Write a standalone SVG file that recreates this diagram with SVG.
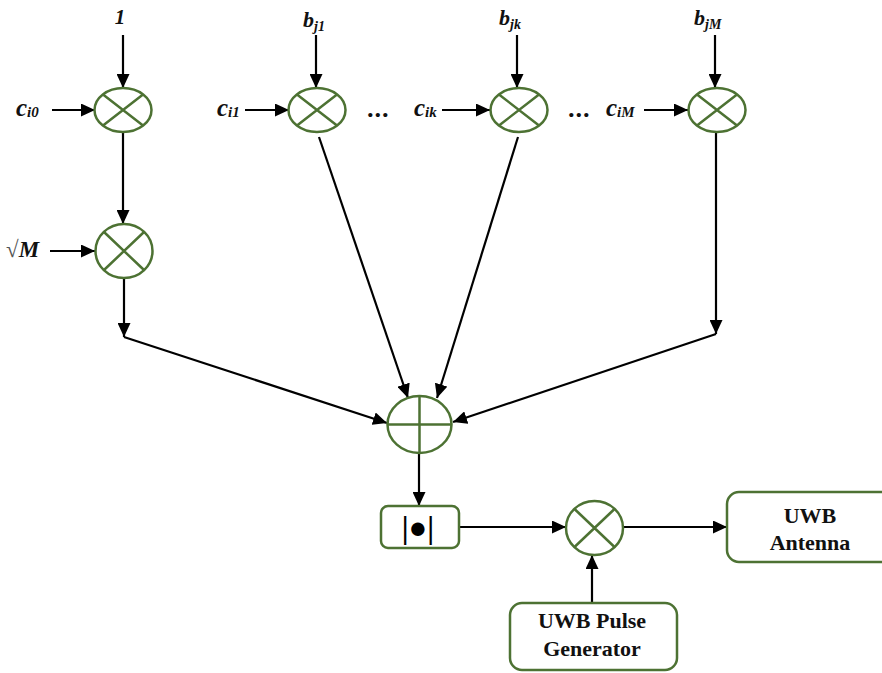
<svg xmlns="http://www.w3.org/2000/svg" width="882" height="673" viewBox="0 0 882 673">
<defs>
<marker id="ah" markerUnits="userSpaceOnUse" markerWidth="14" markerHeight="13" refX="14" refY="6.5" orient="auto">
<path d="M0,0 L14,6.5 L0,13 z" fill="#000"/>
</marker>
<style>
.op{fill:#fff;stroke:#4d7233;stroke-width:2.5}
.x{stroke:#4d7233;stroke-width:2.5;fill:none}
.box{fill:#fff;stroke:#4d7233;stroke-width:2.5}
.ca{stroke:#000;stroke-width:2.2;fill:none;marker-end:url(#ah)}
.lbl{font-family:"Liberation Serif",serif;font-weight:bold;font-style:italic;fill:#111}
.bt{font-family:"Liberation Serif",serif;font-weight:bold;font-size:22px;fill:#111;text-anchor:middle}
</style>
</defs>
<rect width="882" height="673" fill="#fff"/>
<g id="connectors">
<line class="ca" x1="123" y1="35" x2="123" y2="88"/>
<line class="ca" x1="316" y1="35" x2="316" y2="88"/>
<line class="ca" x1="517" y1="35" x2="517" y2="88"/>
<line class="ca" x1="715" y1="35" x2="715" y2="88"/>
<line class="ca" x1="52" y1="110" x2="95" y2="110"/>
<line class="ca" x1="245" y1="110" x2="289" y2="110"/>
<line class="ca" x1="442" y1="110" x2="490" y2="110"/>
<line class="ca" x1="644" y1="110" x2="688" y2="110"/>
<line class="ca" x1="50" y1="251" x2="95" y2="251"/>
<line class="ca" x1="123" y1="132" x2="123" y2="224"/>
<line class="ca" x1="124" y1="278" x2="124" y2="337"/>
<line class="ca" x1="124" y1="337" x2="387" y2="423"/>
<line class="ca" x1="319" y1="137" x2="408" y2="398"/>
<line class="ca" x1="518" y1="137" x2="437" y2="398"/>
<line class="ca" x1="716" y1="132" x2="716" y2="334"/>
<line class="ca" x1="716" y1="334" x2="453" y2="422"/>
<line class="ca" x1="419" y1="453" x2="419" y2="506"/>
<line class="ca" x1="459" y1="527" x2="566" y2="527"/>
<line class="ca" x1="623" y1="527" x2="727" y2="527"/>
<line class="ca" x1="592" y1="603" x2="592" y2="555"/>
</g>
<g id="labels">
<text class="lbl" x="120" y="24" font-size="21" text-anchor="middle">1</text>
<text class="lbl" x="303" y="27" font-size="22">b<tspan font-size="14" dy="4">j1</tspan></text>
<text class="lbl" x="499" y="25" font-size="22">b<tspan font-size="14" dy="4">jk</tspan></text>
<text class="lbl" x="694" y="25" font-size="22">b<tspan font-size="14" dy="4">jM</tspan></text>
<text class="lbl" x="16" y="116" font-size="25">c<tspan font-size="15" dy="1">i0</tspan></text>
<text class="lbl" x="217" y="116" font-size="25">c<tspan font-size="15" dy="1">i1</tspan></text>
<text class="lbl" x="414" y="116" font-size="25">c<tspan font-size="15" dy="1">ik</tspan></text>
<text class="lbl" x="606" y="116" font-size="25">c<tspan font-size="15" dy="1">iM</tspan></text>
<text class="lbl" x="368" y="117" font-size="26" font-style="normal" letter-spacing="1">...</text>
<text class="lbl" x="569" y="117" font-size="26" font-style="normal" letter-spacing="1">...</text>
<text class="lbl" x="6" y="257" font-size="23"><tspan font-weight="normal" font-style="normal" fill="#555">√</tspan>M</text>
</g>
<g id="mul0"><ellipse class="op" cx="123" cy="110" rx="28.5" ry="22"/><path class="x" d="M103,94.5 L143,125.5 M143,94.5 L103,125.5"/></g>
<g id="mul1"><ellipse class="op" cx="317" cy="110" rx="28.5" ry="22"/><path class="x" d="M297,94.5 L337,125.5 M337,94.5 L297,125.5"/></g>
<g id="mulk"><ellipse class="op" cx="519" cy="110" rx="28.5" ry="22"/><path class="x" d="M499,94.5 L539,125.5 M539,94.5 L499,125.5"/></g>
<g id="mulM"><ellipse class="op" cx="717" cy="110" rx="28.5" ry="22"/><path class="x" d="M697,94.5 L737,125.5 M737,94.5 L697,125.5"/></g>
<g id="mulSqrtM"><ellipse class="op" cx="124" cy="251" rx="28.5" ry="27"/><path class="x" d="M104,232 L144,270 M144,232 L104,270"/></g>
<g id="adder"><ellipse class="op" cx="419.5" cy="424.5" rx="32" ry="28.5"/><path class="x" d="M387.5,424.5 L451.5,424.5 M419.5,396 L419.5,453"/></g>
<g id="abs"><rect class="box" x="381" y="506" width="78" height="42" rx="7"/><text x="418" y="538" font-family="Liberation Serif,serif" font-weight="bold" font-size="31" text-anchor="middle" fill="#000">|●|</text></g>
<g id="mulOut"><ellipse class="op" cx="594.5" cy="528" rx="28.5" ry="27"/><path class="x" d="M574.5,509 L614.5,547 M614.5,509 L574.5,547"/></g>
<g id="antenna"><rect class="box" x="727" y="492" width="166" height="70" rx="12"/><text class="bt" x="810" y="523">UWB</text><text class="bt" x="810" y="550">Antenna</text></g>
<g id="pulsegen"><rect class="box" x="510" y="603" width="167" height="67" rx="12"/><text class="bt" x="592" y="628">UWB Pulse</text><text class="bt" x="592" y="656">Generator</text></g>
</svg>
